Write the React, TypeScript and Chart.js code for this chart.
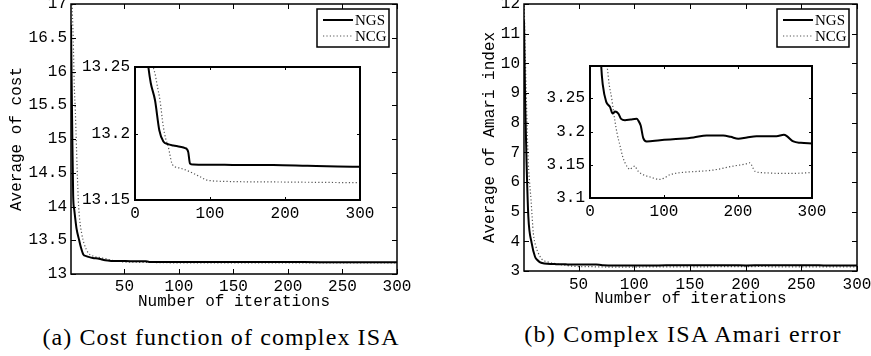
import React, { useEffect, useRef } from 'react';
import { Chart, registerables } from 'chart.js';

Chart.register(...registerables);

// ---------- data ----------
const costNgsIter = [1, 2, 3, 4, 4.7, 6, 8.5, 10, 12.3, 15, 17.8, 21, 26.7, 32.4, 37.8, 44, 51.1, 60, 66.7, 69.5, 71, 73.3, 78, 86.7, 130, 184.4, 230, 270, 300];
const costNgsVal = [16.69, 15.3, 14.15, 13.95, 13.85, 13.68, 13.5, 13.4, 13.29, 13.265, 13.25, 13.238, 13.225, 13.2025, 13.194, 13.192, 13.191, 13.19, 13.189, 13.188, 13.186, 13.1775, 13.1766, 13.1765, 13.1764, 13.1763, 13.1757, 13.1752, 13.175];
const costNcgIter = [1, 2, 3, 4, 5, 5.6, 7.7, 9, 10.8, 13, 16.9, 20, 24.4, 26.7, 30, 33.3, 37.8, 41, 44.4, 48.9, 53, 60, 70, 77.8, 86.7, 95.6, 120, 200, 300];
const costNcgVal = [17.6, 17.0, 16.5, 15.8, 15.4, 15.09, 14.1, 13.8, 13.6, 13.45, 13.31, 13.275, 13.25, 13.245, 13.235, 13.225, 13.205, 13.196, 13.19, 13.178, 13.175, 13.174, 13.172, 13.17, 13.1675, 13.165, 13.164, 13.1635, 13.163];

const amariNgsIter = [1, 2, 3.4, 4.9, 7.9, 10.9, 13, 15.1, 17.3, 21.8, 27, 30.6, 33.8, 38.3, 42, 47.3, 55, 63, 65.5, 68.5, 72, 76.6, 94.6, 121.6, 140, 157.6, 180, 190, 200.4, 212, 225, 252, 262, 266, 274.8, 285, 300];
const amariNgsVal = [11.44, 8.76, 6.52, 4.83, 3.94, 3.48, 3.37, 3.3, 3.27, 3.245, 3.237, 3.227, 3.23, 3.227, 3.219, 3.217, 3.218, 3.219, 3.216, 3.209, 3.19, 3.185, 3.187, 3.189, 3.191, 3.194, 3.194, 3.192, 3.189, 3.191, 3.193, 3.193, 3.195, 3.193, 3.185, 3.183, 3.182];
const amariNcgIter = [1, 2, 3, 4, 4.9, 6, 7.3, 9.4, 11.5, 13.9, 17, 19.9, 23.4, 26, 29.3, 31.5, 33.8, 37, 40.5, 44, 47.3, 51, 54, 57, 60.8, 63, 65.3, 72, 80, 94.6, 100, 108, 121.6, 145, 166.6, 193.7, 210, 216.2, 219, 223, 234, 260, 295, 300];
const amariNcgVal = [12.4, 10.5, 9.0, 7.6, 6.6, 6.0, 5.39, 4.27, 3.85, 3.6, 3.4, 3.33, 3.296, 3.27, 3.25, 3.232, 3.215, 3.195, 3.179, 3.163, 3.153, 3.146, 3.143, 3.146, 3.148, 3.144, 3.14, 3.135, 3.132, 3.128, 3.13, 3.135, 3.138, 3.14, 3.142, 3.148, 3.151, 3.153, 3.148, 3.14, 3.138, 3.137, 3.138, 3.139];

const seriesLabels = ['NGS', 'NCG'];
const mainXTicks = [50, 100, 150, 200, 250, 300];
const insetXTicks = [0, 100, 200, 300];
const costYTicks = [13, 13.5, 14, 14.5, 15, 15.5, 16, 16.5, 17];
const costInsetYTicks = [13.15, 13.2, 13.25];
const amariYTicks = [3, 4, 5, 6, 7, 8, 9, 10, 11, 12];
const amariInsetYTicks = [3.1, 3.15, 3.2, 3.25];
const xTitle = 'Number of iterations';
const costYTitle = 'Average of cost';
const amariYTitle = 'Average of Amari index';
const captionA = '(a) Cost function of complex ISA';
const captionB = '(b) Complex ISA Amari error';

// ---------- helpers ----------
const MONO = '"Courier New", "Nimbus Mono PS", "FreeMono", Courier, "Liberation Mono", monospace';
const SERIF = '"Liberation Serif", "DejaVu Serif", serif';
const pts = (xs: number[], ys: number[]) => xs.map((x, i) => ({ x, y: ys[i] }));
const fmt = (v: any) => String(Number(Number(v).toFixed(6)));

const framePlugin = {
  id: 'frame',
  beforeDraw(chart: any, _a: any, o: any) {
    if (!o || !o.fill) return;
    const { ctx, chartArea: a } = chart;
    ctx.save();
    ctx.fillStyle = o.fill;
    ctx.fillRect(a.left, a.top, a.right - a.left, a.bottom - a.top);
    ctx.restore();
  },
  afterDraw(chart: any, _a: any, o: any) {
    const { ctx, chartArea: a, scales } = chart;
    ctx.save();
    ctx.strokeStyle = '#000';
    ctx.lineWidth = 1;
    const tl = o.tickLen;
    ctx.beginPath();
    for (const t of scales.x.ticks) {
      const px = Math.round(scales.x.getPixelForValue(t.value)) + 0.5;
      ctx.moveTo(px, a.bottom); ctx.lineTo(px, a.bottom - tl);
      ctx.moveTo(px, a.top); ctx.lineTo(px, a.top + tl);
    }
    for (const t of scales.y.ticks) {
      const py = Math.round(scales.y.getPixelForValue(t.value)) + 0.5;
      ctx.moveTo(a.left, py); ctx.lineTo(a.left + tl, py);
      ctx.moveTo(a.right, py); ctx.lineTo(a.right - tl, py);
    }
    ctx.stroke();
    ctx.lineWidth = o.boxWidth;
    ctx.strokeRect(a.left, a.top, a.right - a.left, a.bottom - a.top);
    if (o.legend) {
      const L = o.legend;
      const bx = a.right - L.right - L.w;
      const by = a.top + L.top;
      ctx.fillStyle = '#fff';
      ctx.fillRect(bx, by, L.w, L.h);
      ctx.lineWidth = 1.5;
      ctx.strokeRect(bx, by, L.w, L.h);
      chart.data.datasets.forEach((ds: any, i: number) => {
        const y = by + 11 + i * 16;
        ctx.strokeStyle = ds.borderColor;
        ctx.lineWidth = ds.borderWidth;
        ctx.setLineDash(ds.borderDash || []);
        ctx.beginPath();
        ctx.moveTo(bx + 6, y); ctx.lineTo(bx + 36, y);
        ctx.stroke();
        ctx.setLineDash([]);
        ctx.fillStyle = '#000';
        ctx.font = '15px ' + SERIF;
        ctx.textBaseline = 'middle';
        ctx.textAlign = 'left';
        ctx.fillText(ds.label, bx + 38, y + 1);
      });
    }
    ctx.restore();
  },
};

type Rect = { l: number; t: number; w: number; h: number };
type Area = { l: number; t: number; r: number; b: number };

function makeConfig(p: {
  canvas: Rect; area: Area;
  ngs: { x: number; y: number }[]; ncg: { x: number; y: number }[];
  xMin: number; xMax: number; xTicks: number[];
  yMin: number; yMax: number; yTicks: number[];
  xTitle?: string; xTitleY?: number; yTitle?: string; yTitleX?: number;
  xTickPad: number; yTickPad: number;
  fill?: string; legend?: any; tickLen: number; boxWidth: number;
}) {
  const { canvas, area } = p;
  const la = { l: area.l - canvas.l, t: area.t - canvas.t, r: area.r - canvas.l, b: area.b - canvas.t };
  const yW = la.l;
  const xH = canvas.h - la.b;
  const font = { family: MONO, size: 16, lineHeight: 1.2 };
  const lh = 16 * 1.2;
  return {
    type: 'line',
    data: {
      datasets: [
        { label: seriesLabels[0], data: p.ngs, borderColor: '#000', borderWidth: 2, pointRadius: 0, cubicInterpolationMode: 'monotone', fill: false },
        { label: seriesLabels[1], data: p.ncg, borderColor: '#555', borderWidth: 1.2, borderDash: [1.2, 2.2], pointRadius: 0, cubicInterpolationMode: 'monotone', fill: false },
      ],
    },
    options: {
      animation: false,
      responsive: false,
      events: [],
      layout: { padding: { left: 0, top: la.t, right: canvas.w - la.r, bottom: 0 } },
      plugins: {
        legend: { display: false },
        tooltip: { enabled: false },
        frame: { fill: p.fill, legend: p.legend, tickLen: p.tickLen, boxWidth: p.boxWidth },
      },
      scales: {
        x: {
          type: 'linear', min: p.xMin, max: p.xMax,
          grid: { display: false, drawTicks: false, tickLength: 0 }, border: { display: false },
          afterBuildTicks: (s: any) => { s.ticks = p.xTicks.map((v) => ({ value: v })); },
          afterFit: (s: any) => { s.height = xH; s.paddingLeft = 0; s.paddingRight = 0; s.paddingTop = 0; s.paddingBottom = 0; },
          ticks: { padding: p.xTickPad, maxRotation: 0, autoSkip: false, color: '#000', font, callback: fmt },
          title: p.xTitle
            ? { display: true, text: p.xTitle, color: '#000', font, padding: { top: 0, bottom: canvas.h - (p.xTitleY! - canvas.t) - lh / 2 } }
            : { display: false },
        },
        y: {
          type: 'linear', min: p.yMin, max: p.yMax,
          grid: { display: false, drawTicks: false, tickLength: 0 }, border: { display: false },
          afterBuildTicks: (s: any) => { s.ticks = p.yTicks.map((v) => ({ value: v })); },
          afterFit: (s: any) => { s.width = yW; s.paddingLeft = 0; s.paddingRight = 0; s.paddingTop = 0; s.paddingBottom = 0; },
          ticks: { padding: p.yTickPad, autoSkip: false, color: '#000', font, callback: fmt },
          title: p.yTitle
            ? { display: true, text: p.yTitle, color: '#000', font, padding: { top: (p.yTitleX! - canvas.l) - lh / 2, bottom: 0 } }
            : { display: false },
        },
      },
    },
    plugins: [framePlugin],
  } as any;
}

const costMainCanvas: Rect = { l: 0, t: 0, w: 435, h: 312 };
const costInsetCanvas: Rect = { l: 75, t: 55, w: 310, h: 170 };
const amariMainCanvas: Rect = { l: 435, t: 0, w: 436, h: 312 };
const amariInsetCanvas: Rect = { l: 530, t: 55, w: 310, h: 170 };

export default function App() {
  const r1 = useRef<HTMLCanvasElement>(null);
  const r2 = useRef<HTMLCanvasElement>(null);
  const r3 = useRef<HTMLCanvasElement>(null);
  const r4 = useRef<HTMLCanvasElement>(null);

  useEffect(() => {
    const costNgs = pts(costNgsIter, costNgsVal);
    const costNcg = pts(costNcgIter, costNcgVal);
    const amNgs = pts(amariNgsIter, amariNgsVal);
    const amNcg = pts(amariNcgIter, amariNcgVal);
    const legend = { right: 8, top: 5, w: 72, h: 38 };
    const charts = [
      new Chart(r1.current!, makeConfig({
        canvas: costMainCanvas, area: { l: 71, t: 4, r: 397, b: 274 },
        ngs: costNgs, ncg: costNcg, xMin: 1, xMax: 300, xTicks: mainXTicks,
        yMin: 13, yMax: 17, yTicks: costYTicks,
        xTitle, xTitleY: 302, yTitle: costYTitle, yTitleX: 17,
        xTickPad: 3.5, yTickPad: 4, legend, tickLen: 5, boxWidth: 1.5,
      })),
      new Chart(r2.current!, makeConfig({
        canvas: costInsetCanvas, area: { l: 135, t: 67, r: 360, b: 200 },
        ngs: costNgs, ncg: costNcg, xMin: 0, xMax: 300, xTicks: insetXTicks,
        yMin: 13.15, yMax: 13.25, yTicks: costInsetYTicks,
        xTickPad: 4.5, yTickPad: 5, fill: '#fff', tickLen: 3, boxWidth: 2,
      })),
      new Chart(r3.current!, makeConfig({
        canvas: amariMainCanvas, area: { l: 524, t: 4, r: 857, b: 271 },
        ngs: amNgs, ncg: amNcg, xMin: 1, xMax: 300, xTicks: mainXTicks,
        yMin: 3, yMax: 12, yTicks: amariYTicks,
        xTitle, xTitleY: 299, yTitle: amariYTitle, yTitleX: 490,
        xTickPad: 4, yTickPad: 4, legend, tickLen: 5, boxWidth: 1.5,
      })),
      new Chart(r4.current!, makeConfig({
        canvas: amariInsetCanvas, area: { l: 590, t: 66, r: 812, b: 198 },
        ngs: amNgs, ncg: amNcg, xMin: 0, xMax: 300, xTicks: insetXTicks,
        yMin: 3.1, yMax: 3.2985, yTicks: amariInsetYTicks,
        xTickPad: 4.5, yTickPad: 5, fill: '#fff', tickLen: 3, boxWidth: 2,
      })),
    ];
    return () => charts.forEach((c) => c.destroy());
  }, []);

  const cv = (r: Rect) => ({ position: 'absolute' as const, left: r.l, top: r.t, width: r.w, height: r.h });
  const cap = (center: number, top: number, ls: number) => ({
    position: 'absolute' as const, left: center - 250, width: 500, top, textAlign: 'center' as const,
    fontFamily: SERIF, fontSize: 24, lineHeight: '24px', letterSpacing: ls + 'px', color: '#000', whiteSpace: 'nowrap' as const,
  });

  return (
    <div style={{ position: 'absolute', left: 0, top: 0, width: 871, height: 356, background: '#fff', overflow: 'hidden' }}>
      <canvas ref={r1} width={costMainCanvas.w} height={costMainCanvas.h} style={cv(costMainCanvas)} />
      <canvas ref={r3} width={amariMainCanvas.w} height={amariMainCanvas.h} style={cv(amariMainCanvas)} />
      <canvas ref={r2} width={costInsetCanvas.w} height={costInsetCanvas.h} style={cv(costInsetCanvas)} />
      <canvas ref={r4} width={amariInsetCanvas.w} height={amariInsetCanvas.h} style={cv(amariInsetCanvas)} />
      <div style={cap(221, 325, 1.1)}>{captionA}</div>
      <div style={cap(683, 322, 1.25)}>{captionB}</div>
    </div>
  );
}
